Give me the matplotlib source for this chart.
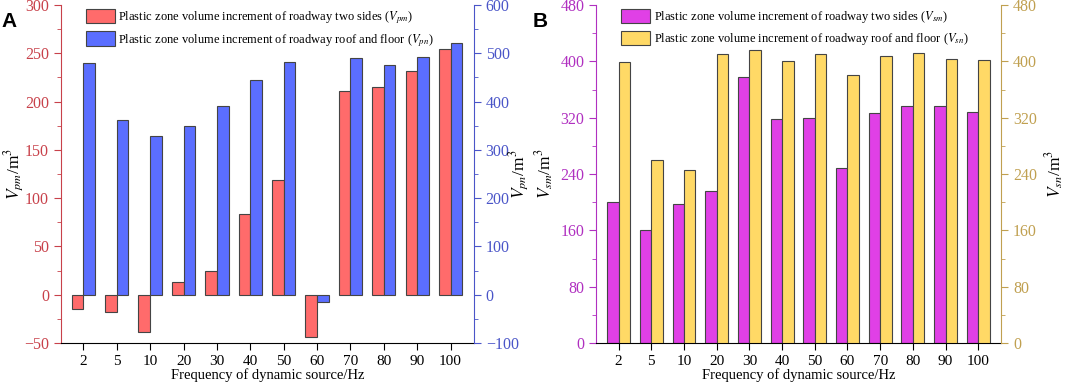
import numpy as np
import matplotlib
matplotlib.use('Agg')
import matplotlib.pyplot as plt

plt.rcParams['font.family'] = 'Liberation Serif'
plt.rcParams['mathtext.fontset'] = 'stix'

freqs = ['2', '5', '10', '20', '30', '40', '50', '60', '70', '80', '90', '100']

# panel A
v_pm = [-15, -18, -39, 13.5, 25, 84, 119, -43.5, 211, 215, 232, 254]
v_pn = [480, 362, 328, 349, 391, 444, 482, -15, 491, 476, 492, 521]

# panel B
v_sm = [200, 160, 197, 216, 378, 317.5, 320, 249, 327, 336, 337, 328.5]
v_sn = [399.5, 260, 245, 411, 415.5, 400, 410, 380, 407.5, 411.7, 403.7, 402]

label_a1 = r'Plastic zone volume increment of roadway two sides ($V_{pm}$)'
label_a2 = r'Plastic zone volume increment of roadway roof and floor ($V_{pn}$)'
label_b1 = r'Plastic zone volume increment of roadway two sides ($V_{sm}$)'
label_b2 = r'Plastic zone volume increment of roadway roof and floor ($V_{sn}$)'


def panel(rect, left_vals, right_vals, lab1, lab2, c1, c2, ax1col, ax2col,
          lylim, lticks, rylim, rticks, lylabel, rylabel, letter, letter_x, lab_x):
    x = np.arange(len(freqs))
    w = 0.35
    ax = fig.add_axes(rect)
    ax2 = ax.twinx()
    b1 = ax.bar(x - w/2, left_vals, w, color=c1, edgecolor='#444444', linewidth=0.8, label=lab1)
    b2 = ax2.bar(x + w/2, right_vals, w, color=c2, edgecolor='#444444', linewidth=0.8, label=lab2)
    ax.set_xlim(-0.68, len(freqs) - 0.3)
    ax.set_ylim(*lylim)
    ax2.set_ylim(*rylim)
    ax.set_yticks(lticks)
    ax2.set_yticks(rticks)
    ax.set_yticks([(lticks[i] + lticks[i+1]) / 2 for i in range(len(lticks) - 1)], minor=True)
    ax2.set_yticks([(rticks[i] + rticks[i+1]) / 2 for i in range(len(rticks) - 1)], minor=True)
    ax.set_xticks(x)
    ax.set_xticklabels(freqs)
    for a in (ax, ax2):
        a.spines['top'].set_visible(False)
    ax.spines['right'].set_visible(False)
    ax2.spines['left'].set_visible(False)
    ax2.spines['bottom'].set_visible(False)
    ax.spines['left'].set_color(ax1col)
    ax2.spines['right'].set_color(ax2col)
    ax.tick_params(axis='y', which='both', colors=ax1col, labelsize=11.5, direction='out')
    ax.tick_params(axis='y', which='major', length=5)
    ax.tick_params(axis='y', which='minor', length=3)
    ax2.tick_params(axis='y', which='both', colors=ax2col, labelsize=11.5, direction='out')
    ax2.tick_params(axis='y', which='major', length=5)
    ax2.tick_params(axis='y', which='minor', length=3)
    ax.tick_params(axis='x', labelsize=11, length=5, direction='out')
    ax.set_xlabel('Frequency of dynamic source/Hz', fontsize=10.5, labelpad=0)
    ax.set_ylabel(lylabel, fontsize=12.5)
    ax2.set_ylabel(rylabel, fontsize=12.5)
    ax.yaxis.set_label_coords(lab_x[0], 0.5)
    ax2.yaxis.set_label_coords(lab_x[1], 0.5)
    ax.legend([b1, b2], [lab1, lab2], loc='upper left', bbox_to_anchor=(0.04, 1.015),
              frameon=False, fontsize=9.0, handlelength=2.3, handleheight=1.4,
              handletextpad=0.3, labelspacing=0.45, borderpad=0.2)
    fig.text(letter_x, 0.93, letter, fontsize=15, fontweight='bold',
             family='Liberation Sans')


fig = plt.figure(figsize=(10.65, 3.85), dpi=100)

panel([0.057, 0.109, 0.388, 0.878], v_pm, v_pn, label_a1, label_a2,
      '#FF6B6B', '#5B6EFF', '#C8414A', '#4A55C8',
      (-50, 300), list(range(-50, 301, 50)), (-100, 600), list(range(-100, 601, 100)),
      r'$V_{pm}$/m$^3$', r'$V_{pn}$/m$^3$', 'A', 0.001, (-0.085, 1.08))

panel([0.560, 0.109, 0.380, 0.878], v_sm, v_sn, label_b1, label_b2,
      '#E040E6', '#FFD966', '#B030C0', '#C0A050',
      (0, 480), list(range(0, 481, 80)), (0, 480), list(range(0, 481, 80)),
      r'$V_{sm}$/m$^3$', r'$V_{sn}$/m$^3$', 'B', 0.500, (-0.10, 1.104))

fig.savefig('out.png', dpi=100)
